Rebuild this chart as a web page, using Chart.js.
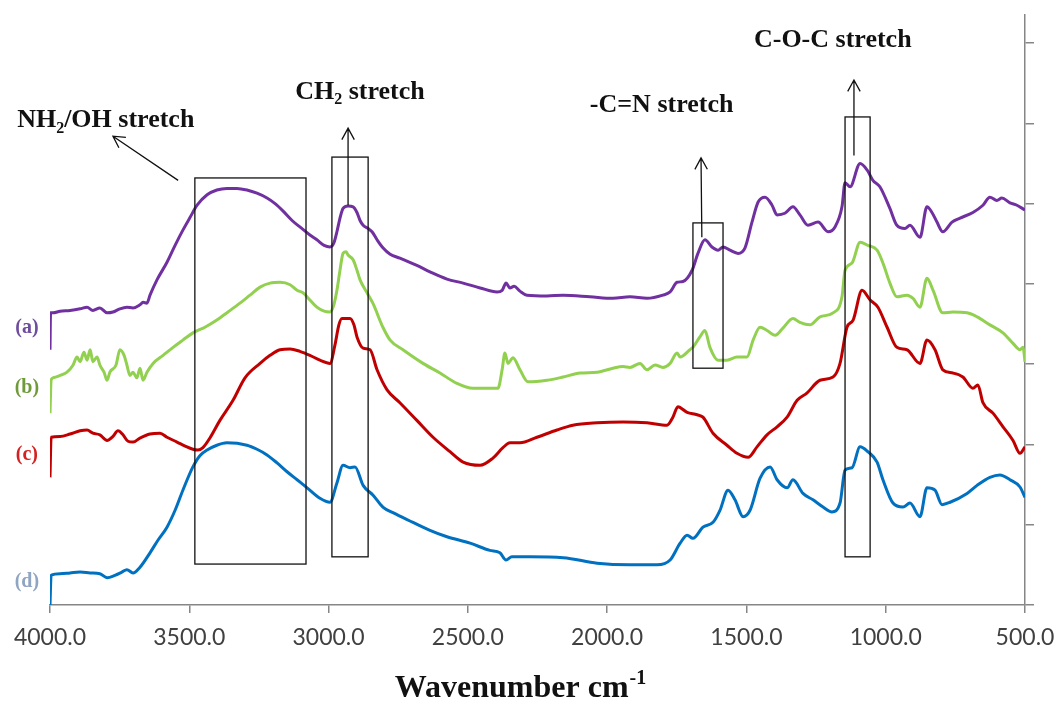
<!DOCTYPE html>
<html>
<head>
<meta charset="utf-8">
<script src="https://cdn.jsdelivr.net/npm/chart.js@4.4.0/dist/chart.umd.min.js"></script>
<style>
  html, body { margin: 0; padding: 0; background: #fff; }
</style>
</head>
<body>
<canvas id="chart" width="1058" height="709"></canvas>
<script>
// --- spectra (wavenumber cm-1 / arbitrary absorbance units) ---
const waveA = [4000, 3998, 3989, 3964, 3928, 3892, 3867, 3846, 3821, 3795, 3774, 3749, 3724, 3702, 3677, 3666, 3652, 3641, 3616, 3580, 3551, 3523, 3497, 3472, 3436, 3401, 3365, 3329, 3293, 3257, 3221, 3192, 3164, 3131, 3103, 3067, 3042, 3016, 2995, 2981, 2970, 2959, 2948, 2930, 2912, 2898, 2887, 2876, 2858, 2844, 2826, 2805, 2779, 2744, 2683, 2636, 2575, 2517, 2456, 2395, 2377, 2363, 2349, 2334, 2313, 2288, 2216, 2158, 2062, 1979, 1918, 1857, 1800, 1774, 1749, 1728, 1695, 1674, 1649, 1624, 1602, 1584, 1559, 1530, 1505, 1480, 1458, 1433, 1408, 1390, 1362, 1333, 1308, 1279, 1243, 1207, 1182, 1157, 1146, 1128, 1092, 1067, 1046, 1021, 985, 960, 931, 913, 877, 852, 834, 816, 795, 762, 733, 687, 651, 626, 601, 583, 554, 529, 500];
const absA = [3.18, 3.64, 3.64, 3.66, 3.67, 3.69, 3.71, 3.67, 3.70, 3.64, 3.65, 3.69, 3.71, 3.70, 3.74, 3.77, 3.76, 3.86, 4.05, 4.27, 4.48, 4.67, 4.83, 4.98, 5.11, 5.17, 5.19, 5.19, 5.17, 5.13, 5.07, 5.00, 4.91, 4.79, 4.71, 4.61, 4.55, 4.48, 4.46, 4.51, 4.65, 4.82, 4.94, 4.97, 4.96, 4.89, 4.79, 4.73, 4.69, 4.65, 4.55, 4.45, 4.37, 4.32, 4.23, 4.15, 4.06, 4.01, 3.95, 3.90, 3.92, 4.01, 3.95, 3.97, 3.91, 3.86, 3.85, 3.86, 3.84, 3.82, 3.84, 3.82, 3.86, 3.90, 4.02, 4.03, 4.17, 4.38, 4.55, 4.46, 4.42, 4.46, 4.42, 4.38, 4.45, 4.77, 5.02, 5.08, 4.98, 4.86, 4.88, 4.96, 4.86, 4.73, 4.77, 4.65, 4.71, 4.96, 5.26, 5.21, 5.50, 5.42, 5.29, 5.21, 4.94, 4.73, 4.69, 4.73, 4.58, 4.96, 4.89, 4.77, 4.65, 4.77, 4.82, 4.89, 4.98, 5.08, 5.04, 5.07, 5.01, 4.98, 4.92];

const waveB = [4000, 3996, 3989, 3964, 3939, 3917, 3903, 3892, 3878, 3867, 3856, 3846, 3831, 3821, 3806, 3795, 3785, 3763, 3749, 3734, 3724, 3713, 3702, 3688, 3677, 3666, 3652, 3630, 3594, 3558, 3523, 3487, 3444, 3401, 3361, 3318, 3282, 3246, 3210, 3174, 3138, 3113, 3092, 3067, 3042, 3016, 2995, 2981, 2970, 2959, 2948, 2937, 2930, 2912, 2898, 2887, 2862, 2841, 2805, 2779, 2733, 2661, 2600, 2539, 2482, 2392, 2377, 2367, 2356, 2338, 2313, 2284, 2216, 2158, 2097, 2036, 1979, 1943, 1918, 1882, 1857, 1828, 1800, 1774, 1749, 1738, 1703, 1692, 1667, 1649, 1631, 1602, 1570, 1534, 1498, 1476, 1451, 1426, 1397, 1369, 1333, 1308, 1272, 1236, 1189, 1157, 1146, 1121, 1092, 1064, 1031, 1010, 985, 960, 924, 902, 877, 852, 830, 795, 759, 708, 672, 626, 579, 543, 518, 507, 500];
const absB = [2.39, 2.80, 2.83, 2.86, 2.90, 2.99, 3.09, 3.03, 3.15, 3.05, 3.18, 3.03, 3.09, 2.99, 2.90, 2.80, 2.90, 2.99, 3.18, 3.11, 2.99, 2.86, 2.90, 2.83, 2.95, 2.80, 2.90, 3.01, 3.11, 3.21, 3.30, 3.39, 3.46, 3.55, 3.65, 3.76, 3.86, 3.96, 4.01, 4.02, 3.99, 3.92, 3.89, 3.80, 3.71, 3.66, 3.65, 3.74, 3.92, 4.17, 4.38, 4.40, 4.36, 4.30, 4.17, 4.05, 3.89, 3.76, 3.46, 3.30, 3.18, 3.01, 2.89, 2.76, 2.70, 2.70, 2.93, 3.14, 3.01, 3.08, 2.93, 2.78, 2.80, 2.84, 2.89, 2.90, 2.95, 2.97, 2.96, 3.01, 2.93, 2.99, 2.96, 3.01, 3.14, 3.09, 3.18, 3.21, 3.34, 3.42, 3.21, 3.05, 3.05, 3.09, 3.09, 3.30, 3.46, 3.42, 3.36, 3.45, 3.57, 3.52, 3.49, 3.59, 3.64, 3.84, 4.17, 4.26, 4.52, 4.48, 4.42, 4.26, 4.01, 3.84, 3.86, 3.82, 3.71, 4.07, 3.92, 3.64, 3.65, 3.64, 3.59, 3.49, 3.39, 3.26, 3.18, 3.21, 3.03];

const waveC = [4000, 3996, 3964, 3928, 3892, 3867, 3846, 3821, 3795, 3774, 3756, 3738, 3720, 3702, 3677, 3641, 3605, 3580, 3544, 3515, 3487, 3469, 3451, 3426, 3390, 3343, 3300, 3246, 3210, 3174, 3138, 3103, 3067, 3031, 2995, 2977, 2963, 2952, 2923, 2909, 2898, 2876, 2851, 2826, 2790, 2744, 2683, 2625, 2564, 2517, 2456, 2410, 2374, 2349, 2313, 2252, 2180, 2123, 2036, 1943, 1857, 1785, 1764, 1746, 1713, 1677, 1656, 1620, 1570, 1534, 1494, 1462, 1426, 1390, 1354, 1318, 1283, 1236, 1189, 1164, 1139, 1117, 1085, 1056, 1028, 995, 960, 924, 877, 852, 823, 795, 759, 723, 687, 669, 651, 615, 579, 543, 518, 500];
const absC = [1.59, 2.09, 2.10, 2.13, 2.17, 2.18, 2.14, 2.12, 2.05, 2.10, 2.17, 2.12, 2.04, 2.03, 2.08, 2.13, 2.14, 2.09, 2.03, 1.98, 1.94, 1.93, 1.96, 2.08, 2.30, 2.55, 2.83, 3.01, 3.11, 3.18, 3.19, 3.16, 3.11, 3.05, 3.01, 3.24, 3.49, 3.57, 3.57, 3.49, 3.34, 3.20, 3.18, 2.93, 2.68, 2.52, 2.30, 2.09, 1.91, 1.78, 1.74, 1.83, 1.96, 2.02, 2.02, 2.09, 2.18, 2.24, 2.27, 2.28, 2.27, 2.24, 2.34, 2.47, 2.40, 2.37, 2.34, 2.14, 1.99, 1.89, 1.84, 1.97, 2.12, 2.22, 2.34, 2.55, 2.64, 2.80, 2.84, 3.01, 3.46, 3.55, 3.92, 3.80, 3.71, 3.46, 3.21, 3.18, 3.01, 3.30, 3.18, 2.93, 2.89, 2.84, 2.70, 2.74, 2.52, 2.39, 2.22, 2.05, 1.89, 1.97];

const waveD = [4000, 3996, 3964, 3928, 3892, 3856, 3821, 3795, 3767, 3742, 3724, 3702, 3677, 3641, 3612, 3580, 3551, 3523, 3487, 3462, 3436, 3401, 3365, 3293, 3257, 3221, 3185, 3149, 3113, 3077, 3031, 2995, 2970, 2948, 2923, 2905, 2876, 2841, 2805, 2769, 2697, 2636, 2575, 2492, 2421, 2385, 2363, 2342, 2277, 2158, 2036, 1918, 1821, 1774, 1738, 1713, 1692, 1656, 1620, 1595, 1566, 1541, 1512, 1487, 1451, 1415, 1390, 1354, 1333, 1297, 1261, 1225, 1193, 1164, 1146, 1121, 1092, 1064, 1031, 1010, 974, 938, 913, 877, 852, 823, 798, 769, 708, 672, 626, 590, 554, 518, 500];
const absD = [0.00, 0.37, 0.39, 0.40, 0.41, 0.40, 0.39, 0.34, 0.37, 0.41, 0.44, 0.40, 0.47, 0.65, 0.81, 0.97, 1.18, 1.43, 1.72, 1.86, 1.93, 1.99, 2.02, 1.99, 1.94, 1.87, 1.77, 1.66, 1.56, 1.46, 1.33, 1.28, 1.52, 1.74, 1.71, 1.72, 1.49, 1.37, 1.22, 1.15, 1.03, 0.93, 0.85, 0.77, 0.68, 0.65, 0.56, 0.60, 0.60, 0.59, 0.52, 0.50, 0.50, 0.56, 0.77, 0.87, 0.83, 0.97, 1.03, 1.18, 1.43, 1.31, 1.10, 1.18, 1.58, 1.72, 1.56, 1.46, 1.56, 1.39, 1.31, 1.22, 1.16, 1.27, 1.68, 1.71, 1.97, 1.91, 1.78, 1.56, 1.27, 1.22, 1.27, 1.10, 1.46, 1.43, 1.25, 1.28, 1.39, 1.49, 1.59, 1.62, 1.56, 1.47, 1.34];

const seriesNames = ["(a)", "(b)", "(c)", "(d)"];
const xTicks = [4000, 3500, 3000, 2500, 2000, 1500, 1000, 500];

// --- annotations, in the same data units ---
// boxes: [wn from, wn to, top, bottom]
const boxes = [[3480, 3081, 5.32, 0.51], [2988, 2858, 5.58, 0.60], [1692, 1584, 4.76, 2.95], [1146, 1056, 6.08, 0.60]];
// arrows: [wn tail, y tail, wn head, y head]
const arrows = [[3540, 5.29, 3774, 5.84], [2930, 4.98, 2930, 5.94], [1660, 4.58, 1663, 5.57], [1114, 5.60, 1114, 6.54]];
// label texts: parts with subscripts, anchored at left/baseline
const notes = [
  { wn: 4118, y: 5.95, parts: [["NH", 0], ["2", 1], ["/OH stretch", 0]] },
  { wn: 3120, y: 6.30, parts: [["CH", 0], ["2", 1], [" stretch", 0]] },
  { wn: 2062, y: 6.14, parts: [["-C=N stretch", 0]] },
  { wn: 1473, y: 6.95, parts: [["C-O-C stretch", 0]] },
];
const labelPos = [3.45, 2.70, 1.87, 0.29];

const lineColors = ["#7030A0", "#92D050", "#C00000", "#0070C0"];
const labelColors = ["#6E4C9E", "#6F9A3A", "#D42020", "#8FA5C2"];
const serif = "'Liberation Serif', 'Times New Roman', serif";
const axisGrey = "#868686";

const toPts = (w, a) => w.map((v, i) => ({ x: v, y: a[i] }));
const sets = [[waveA, absA], [waveB, absB], [waveC, absC], [waveD, absD]];

const drawParts = (ctx, parts, x, y, size) => {
  parts.forEach(([t, sub]) => {
    ctx.font = `bold ${sub ? Math.round(size * 0.6) : size}px ${serif}`;
    ctx.fillText(t, x, sub ? y + size * 0.2 : y);
    x += ctx.measureText(t).width;
  });
};

const annotate = {
  id: "annotate",
  afterDatasetsDraw(chart) {
    const { ctx, scales: { x, y } } = chart;
    const px = (v) => x.getPixelForValue(v);
    const py = (v) => y.getPixelForValue(v);
    ctx.save();
    ctx.strokeStyle = "#111";
    ctx.lineWidth = 1.3;

    // boxes
    boxes.forEach(([w1, w2, t, b]) => {
      ctx.strokeRect(px(w1), py(t), px(w2) - px(w1), py(b) - py(t));
    });

    // arrows with open heads
    arrows.forEach(([w1, y1, w2, y2]) => {
      const x1 = px(w1), yy1 = py(y1), x2 = px(w2), yy2 = py(y2);
      const ang = Math.atan2(yy2 - yy1, x2 - x1);
      const head = 13;
      ctx.beginPath();
      ctx.moveTo(x1, yy1);
      ctx.lineTo(x2, yy2);
      ctx.moveTo(x2 - head * Math.cos(ang - 0.5), yy2 - head * Math.sin(ang - 0.5));
      ctx.lineTo(x2, yy2);
      ctx.lineTo(x2 - head * Math.cos(ang + 0.5), yy2 - head * Math.sin(ang + 0.5));
      ctx.stroke();
    });

    // band labels
    ctx.fillStyle = "#111";
    ctx.textAlign = "left";
    ctx.textBaseline = "alphabetic";
    notes.forEach((n) => drawParts(ctx, n.parts, px(n.wn), py(n.y), 26));

    // series labels
    ctx.textAlign = "center";
    ctx.textBaseline = "middle";
    ctx.font = `bold 20px ${serif}`;
    seriesNames.forEach((s, i) => {
      ctx.fillStyle = labelColors[i];
      ctx.fillText(s, px(4083), py(labelPos[i]));
    });

    // axis title
    ctx.fillStyle = "#111";
    ctx.textAlign = "left";
    ctx.textBaseline = "alphabetic";
    ctx.font = `bold 32px ${serif}`;
    const main = "Wavenumber cm";
    const wMain = ctx.measureText(main).width;
    ctx.font = `bold 20px ${serif}`;
    const wSup = ctx.measureText("-1").width;
    const tx = 520 - (wMain + wSup) / 2;
    ctx.font = `bold 32px ${serif}`;
    ctx.fillText(main, tx, 697);
    ctx.font = `bold 20px ${serif}`;
    ctx.fillText("-1", tx + wMain + 1, 684);
    ctx.restore();
  },
};

new Chart(document.getElementById("chart"), {
  type: "line",
  data: {
    datasets: sets.map(([w, a], i) => ({
      label: seriesNames[i],
      data: toPts(w, a),
      borderColor: lineColors[i],
      borderWidth: 3,
      borderJoinStyle: "round",
      pointRadius: 0,
      cubicInterpolationMode: "monotone",
      fill: false,
    })),
  },
  options: {
    responsive: false,
    animation: false,
    devicePixelRatio: 1,
    parsing: false,
    layout: { padding: { left: 50, top: 15, right: 0, bottom: 0 } },
    plugins: { legend: { display: false }, tooltip: { enabled: false } },
    scales: {
      x: {
        type: "linear",
        reverse: true,
        min: 500,
        max: 4000,
        afterBuildTicks: (s) => { s.ticks = xTicks.map((v) => ({ value: v })); },
        ticks: {
          callback: (v) => Number(v).toFixed(1),
          font: { family: "Lato", size: 23 },
          color: "#404040",
          padding: 11,
          maxRotation: 0,
          autoSkip: false,
        },
        grid: { drawOnChartArea: false, drawTicks: true, tickLength: 8, color: axisGrey, lineWidth: 1.5 },
        border: { color: axisGrey, width: 1.5 },
        afterFit: (s) => { s.height = 104; s.paddingLeft = 0; s.paddingRight = 0; },
      },
      y: {
        position: "right",
        min: 0,
        max: 7.35,
        ticks: { display: false, stepSize: 1, includeBounds: false },
        grid: { drawOnChartArea: false, drawTicks: true, tickLength: 9, color: axisGrey, lineWidth: 1.5 },
        border: { color: axisGrey, width: 1.5 },
        afterFit: (s) => { s.width = 33; s.paddingTop = 0; s.paddingBottom = 0; },
      },
    },
  },
  plugins: [annotate],
});
</script>
</body>
</html>
